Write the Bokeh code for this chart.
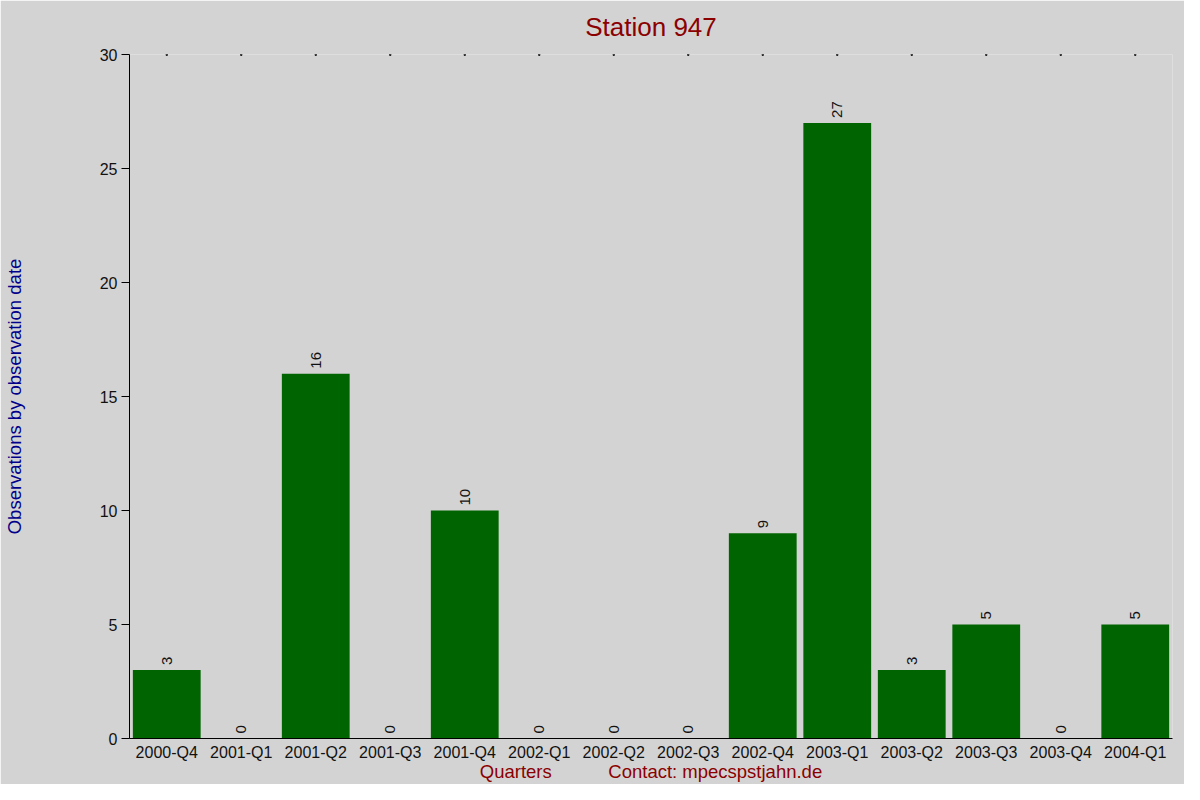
from bokeh.plotting import figure
from bokeh.models import ColumnDataSource, FixedTicker, Range1d, FactorRange
from bokeh.embed import file_html
from bokeh.resources import INLINE
import math

quarters = ["2000-Q4", "2001-Q1", "2001-Q2", "2001-Q3", "2001-Q4", "2002-Q1", "2002-Q2",
            "2002-Q3", "2002-Q4", "2003-Q1", "2003-Q2", "2003-Q3", "2003-Q4", "2004-Q1"]
observations = [3, 0, 16, 0, 10, 0, 0, 0, 9, 27, 3, 5, 0, 5]
y_ticks = [0, 5, 10, 15, 20, 25, 30]
y_max = 30

FONT = "Liberation Sans"
BG = "#D3D3D3"

src = ColumnDataSource(dict(q=quarters, v=observations, lbl=[str(v) for v in observations],
                            top=[y_max] * len(quarters)))

p = figure(width=1184, height=784, x_range=FactorRange(*quarters, range_padding=0),
           y_range=Range1d(0, y_max), output_backend="svg", toolbar_location=None,
           title="Station 947",
           min_border_left=126, min_border_right=12, min_border_top=54, min_border_bottom=42)

p.background_fill_color = BG
p.border_fill_color = BG
p.outline_line_color = None
p.grid.grid_line_color = None

p.title.align = "center"
p.title.vertical_align = "top"
p.title.text_font = FONT
p.title.text_font_size = "26px"
p.title.text_font_style = "normal"
p.title.text_color = "#8B0000"
p.title.standoff = 22

p.vbar(x="q", top="v", width=0.91, source=src, fill_color="#006400", line_color=None)
p.text(x="q", y="v", text="lbl", source=src, angle=math.pi / 2, text_align="left",
       text_baseline="middle", y_offset=-5, text_font_size="15px", text_color="#111111",
       text_font={"value": FONT})
p.scatter(x="q", y="top", source=src, marker="square", size=1.5, color="black")

yax = p.yaxis[0]
yax.ticker = FixedTicker(ticks=y_ticks)
yax.major_tick_out = 8
yax.major_tick_in = 0
yax.minor_tick_out = 0
yax.minor_tick_in = 0
yax.major_label_standoff = 4
yax.major_label_text_font = FONT
yax.major_label_text_font_size = "16px"
yax.major_label_text_color = "#111111"
yax.axis_line_color = "black"
yax.major_tick_line_color = "black"
yax.axis_label = "Observations by observation date"
yax.axis_label_text_font = FONT
yax.axis_label_text_font_size = "18.5px"
yax.axis_label_text_font_style = "normal"
yax.axis_label_text_color = "#00008B"
yax.axis_label_standoff = 72

xax = p.xaxis[0]
xax.major_tick_out = 0
xax.major_tick_in = 0
xax.major_label_standoff = 5
xax.major_label_text_font = FONT
xax.major_label_text_font_size = "16px"
xax.major_label_text_color = "#111111"
xax.axis_line_color = "black"
xax.axis_label = "Quarters" + "\u00a0" * 11 + "Contact: mpecspstjahn.de"
xax.axis_label_text_font = FONT
xax.axis_label_text_font_size = "18.5px"
xax.axis_label_text_font_style = "normal"
xax.axis_label_text_color = "#8B0000"
xax.axis_label_standoff = -3

open("out.html", "w").write(file_html(p, INLINE))
